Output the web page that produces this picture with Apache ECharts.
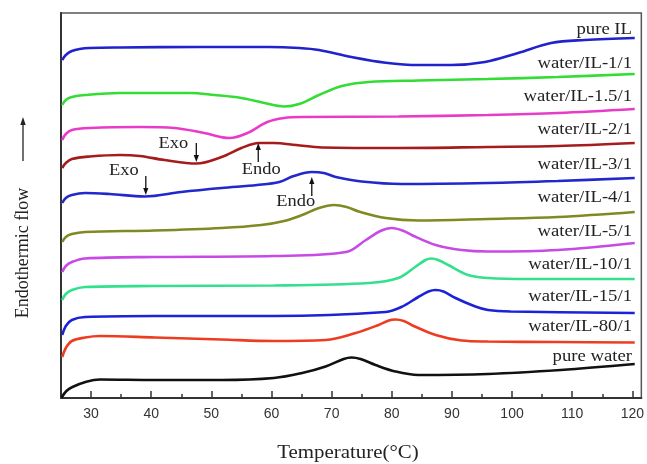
<!DOCTYPE html>
<html><head><meta charset="utf-8">
<script src="https://cdn.jsdelivr.net/npm/echarts@6/dist/echarts.min.js"></script>
<style>html,body{margin:0;padding:0;background:#fff}#c{width:647px;height:464px}</style>
</head><body><div id="c"></div>
<script>
// ---- tick labels ----
const xTickLabels = [30, 40, 50, 60, 70, 80, 90, 100, 110, 120];
const xMinorTicks = [35, 45, 55, 65, 75, 85, 95, 105, 115];

// ---- series (temperature °C, heat flow a.u.) ----
const pureIL_T = [25.2, 25.8, 26.8, 28.1, 29.8, 34.8, 48.0, 59.6, 64.6, 67.9, 73.3, 79.0, 84.4, 89.9, 95.5, 101.0, 106.5, 112.1, 120.4];
const pureIL_V = [338, 343, 347, 349, 350, 350.5, 351, 351, 350, 348, 341, 335.3, 333, 333, 336, 345, 355, 358, 360];

const w1_T = [25.2, 25.8, 26.8, 29.0, 34.8, 46.4, 50.5, 55.0, 58.8, 62.1, 64.6, 67.9, 71.7, 76.2, 84.4, 96.0, 107.6, 120.4];
const w1_V = [293, 298, 301, 303, 305, 305, 303, 300, 295, 291.5, 294, 303, 312, 316, 317.5, 319, 321, 324];

const w15_T = [25.2, 25.8, 26.8, 29.8, 38.1, 43.9, 48.8, 53.0, 56.0, 59.3, 62.1, 65.1, 81.1, 96.0, 107.6, 120.4];
const w15_V = [258, 264, 268, 270, 271, 270, 265, 260, 265, 276, 280, 281, 281.5, 283, 285, 289];

const w2_T = [25.2, 25.8, 26.8, 29.8, 34.8, 38.1, 42.2, 47.5, 51.7, 55.0, 57.9, 60.4, 64.1, 68.4, 81.1, 96.0, 107.6, 120.4];
const w2_V = [230, 235, 239, 241.5, 243, 242, 238, 234.5, 241, 250, 255, 255, 253, 250.5, 250, 251, 252, 255];

const w3_T = [25.2, 25.8, 26.8, 29.0, 33.1, 38.9, 45.0, 51.7, 57.6, 61.3, 63.7, 66.7, 68.7, 70.7, 75.0, 81.6, 96.0, 107.6, 120.4];
const w3_V = [195, 200, 203, 205, 204, 201.5, 206, 210, 213, 216, 222, 226, 225, 221, 216.5, 214, 215, 217, 220];

const w4_T = [25.2, 25.8, 26.8, 29.0, 40.6, 51.7, 58.3, 62.1, 65.1, 67.9, 70.4, 72.5, 74.5, 79.0, 84.4, 96.0, 107.6, 120.4];
const w4_V = [156, 161, 164, 166, 167.5, 170, 173, 177, 183, 190, 193, 191, 186.5, 180, 177.5, 179, 181, 186];

const w5_T = [25.2, 25.8, 26.8, 29.0, 40.6, 60.4, 72.4, 75.7, 78.1, 80.0, 82.0, 83.3, 87.3, 91.6, 96.0, 107.6, 120.4];
const w5_V = [126, 132, 136, 139.5, 141, 142, 146, 158, 167, 170, 167, 163, 153, 148, 146.5, 148, 155];

const w10_T = [25.2, 25.8, 26.8, 29.0, 40.6, 60.4, 76.2, 81.1, 83.9, 85.6, 86.6, 87.7, 89.4, 92.7, 96.0, 102.6, 120.4];
const w10_V = [98, 104, 108, 111, 112, 112.5, 115, 120, 131, 138, 139.5, 138, 133, 123, 120, 119, 119];

const w15b_T = [25.2, 25.8, 26.8, 29.0, 40.6, 60.4, 79.0, 81.6, 84.4, 86.1, 87.3, 88.6, 90.6, 93.9, 96.0, 99.8, 120.4];
const w15b_V = [63, 72, 78, 81, 82, 82, 86, 91, 101, 106.5, 108, 106.5, 100, 91.5, 88, 86.5, 85];

const w80_T = [25.2, 25.8, 26.8, 29.0, 31.5, 40.6, 51.7, 60.4, 69.0, 74.0, 77.8, 79.5, 80.6, 82.0, 83.3, 87.3, 91.6, 96.0, 107.6, 120.4];
const w80_V = [41, 50, 57, 60.5, 62, 60.5, 58.5, 57, 58, 65, 73, 77.5, 78.5, 77, 73, 63, 57.5, 56.5, 56, 55.5];

const water_T = [25.1, 25.9, 26.9, 29.2, 31.5, 40.6, 51.7, 60.4, 65.1, 69.0, 72.0, 73.3, 74.8, 77.3, 80.6, 84.4, 96.0, 108.1, 120.4];
const water_V = [0.5, 7, 11, 16.3, 18.5, 18, 18, 20, 25, 31.5, 39, 40.5, 39, 33, 26.5, 23, 24, 28, 34];

const seriesNames = ['pure IL', 'water/IL-1/1', 'water/IL-1.5/1', 'water/IL-2/1', 'water/IL-3/1', 'water/IL-4/1',
  'water/IL-5/1', 'water/IL-10/1', 'water/IL-15/1', 'water/IL-80/1', 'pure water'];
const seriesT = [pureIL_T, w1_T, w15_T, w2_T, w3_T, w4_T, w5_T, w10_T, w15b_T, w80_T, water_T];
const seriesV = [pureIL_V, w1_V, w15_V, w2_V, w3_V, w4_V, w5_V, w10_V, w15b_V, w80_V, water_V];

// annotation arrow tips in data coords [T, value]
const annotations = [
  { text: 'Exo', dir: 'down', at: [47.5, 236] },
  { text: 'Exo', dir: 'down', at: [39.1, 203] },
  { text: 'Endo', dir: 'up', at: [57.8, 255] },
  { text: 'Endo', dir: 'up', at: [66.7, 221] }
];

// ---- styles ----
const colors = ['#2222cc', '#33dd33', '#e83cc8', '#a51c1c', '#2228cc', '#7f8a22', '#c84ae6', '#33e08c', '#1c22d6', '#ee3c20', '#111111'];
const labelY = [30, 64, 97, 130, 165, 198, 232, 265, 297, 327, 357];
const annotOffsets = [[-23, -18], [-22, -24], [3, 27], [-16, 25]];

const chart = echarts.init(document.getElementById('c'), null, { renderer: 'canvas' });

const series = seriesNames.map((n, i) => ({
  name: n,
  type: 'line',
  xAxisIndex: 0,
  yAxisIndex: 0,
  data: seriesT[i].map((t, k) => [t, seriesV[i][k]]),
  smooth: 0.35,
  showSymbol: false,
  lineStyle: { color: colors[i], width: 2.6 },
  itemStyle: { color: colors[i] },
  z: 3
}));

chart.setOption({
  animation: false,
  backgroundColor: '#ffffff',
  grid: { left: 61, right: 3, top: 13, bottom: 66, show: true, borderColor: '#555', borderWidth: 1.5, backgroundColor: 'transparent' },
  xAxis: [{
    type: 'value', min: 25, max: 121.5,
    axisLine: { show: true, lineStyle: { color: '#333', width: 2 } },
    axisTick: { show: true, inside: true, length: 7, customValues: xTickLabels, lineStyle: { color: '#333', width: 1.5 } },
    axisLabel: { customValues: xTickLabels, fontSize: 14, color: '#333', margin: 9, fontFamily: 'Liberation Sans' },
    splitLine: { show: false }
  }, {
    type: 'value', min: 25, max: 121.5, position: 'bottom',
    axisLine: { show: false },
    axisTick: { show: true, inside: true, length: 4, customValues: xMinorTicks, lineStyle: { color: '#333', width: 1.5 } },
    axisLabel: { show: false },
    splitLine: { show: false }
  }],
  yAxis: {
    type: 'value', min: 0, max: 385,
    axisLine: { show: true, lineStyle: { color: '#333', width: 2 } },
    axisTick: { show: false }, axisLabel: { show: false }, splitLine: { show: false }
  },
  series: series
});

const serif = '"Liberation Serif", "Times New Roman", serif';
const g = [];
// curve labels
seriesNames.forEach((n, i) => {
  g.push({ type: 'text', x: 632, y: labelY[i], scaleX: 1.1, z: 10,
    style: { text: n, x: 0, y: 0, align: 'right', verticalAlign: 'middle', font: '17px ' + serif, fill: '#222' } });
});
// annotations
annotations.forEach((a, i) => {
  const p = chart.convertToPixel({ xAxisIndex: 0, yAxisIndex: 0 }, a.at);
  const tipX = p[0], tipY = p[1];
  const len = a.dir === 'down' ? -19 : 19;
  const tailY = tipY + len;
  const headDir = a.dir === 'down' ? -1 : 1;
  g.push({ type: 'line', z: 10, shape: { x1: tipX, y1: tailY, x2: tipX, y2: tipY + headDir * 5 }, style: { stroke: '#111', lineWidth: 1.3 } });
  g.push({ type: 'polygon', z: 10, shape: { points: [[tipX, tipY], [tipX - 2.6, tipY + headDir * 7], [tipX + 2.6, tipY + headDir * 7]] }, style: { fill: '#111' } });
  g.push({ type: 'text', x: tipX + annotOffsets[i][0], y: tipY + annotOffsets[i][1], scaleX: 1.15, z: 10,
    style: { text: a.text, x: 0, y: 0, align: 'center', verticalAlign: 'middle', font: '16px ' + serif, fill: '#222' } });
});
// axis titles
g.push({ type: 'text', x: 348, y: 453, scaleX: 1.16, z: 10,
  style: { text: 'Temperature(°C)', x: 0, y: 0, align: 'center', verticalAlign: 'middle', font: '18px ' + serif, fill: '#222' } });
g.push({ type: 'text', x: 23, y: 253, rotation: Math.PI / 2, z: 10,
  style: { text: 'Endothermic flow', x: 0, y: 0, align: 'center', verticalAlign: 'middle', font: '18px ' + serif, fill: '#222' } });
g.push({ type: 'line', z: 10, shape: { x1: 23, y1: 161, x2: 23, y2: 124 }, style: { stroke: '#222', lineWidth: 1.3 } });
g.push({ type: 'polygon', z: 10, shape: { points: [[23, 117], [20.3, 125], [25.7, 125]] }, style: { fill: '#222' } });

chart.setOption({ graphic: g });
</script>
</body></html>
